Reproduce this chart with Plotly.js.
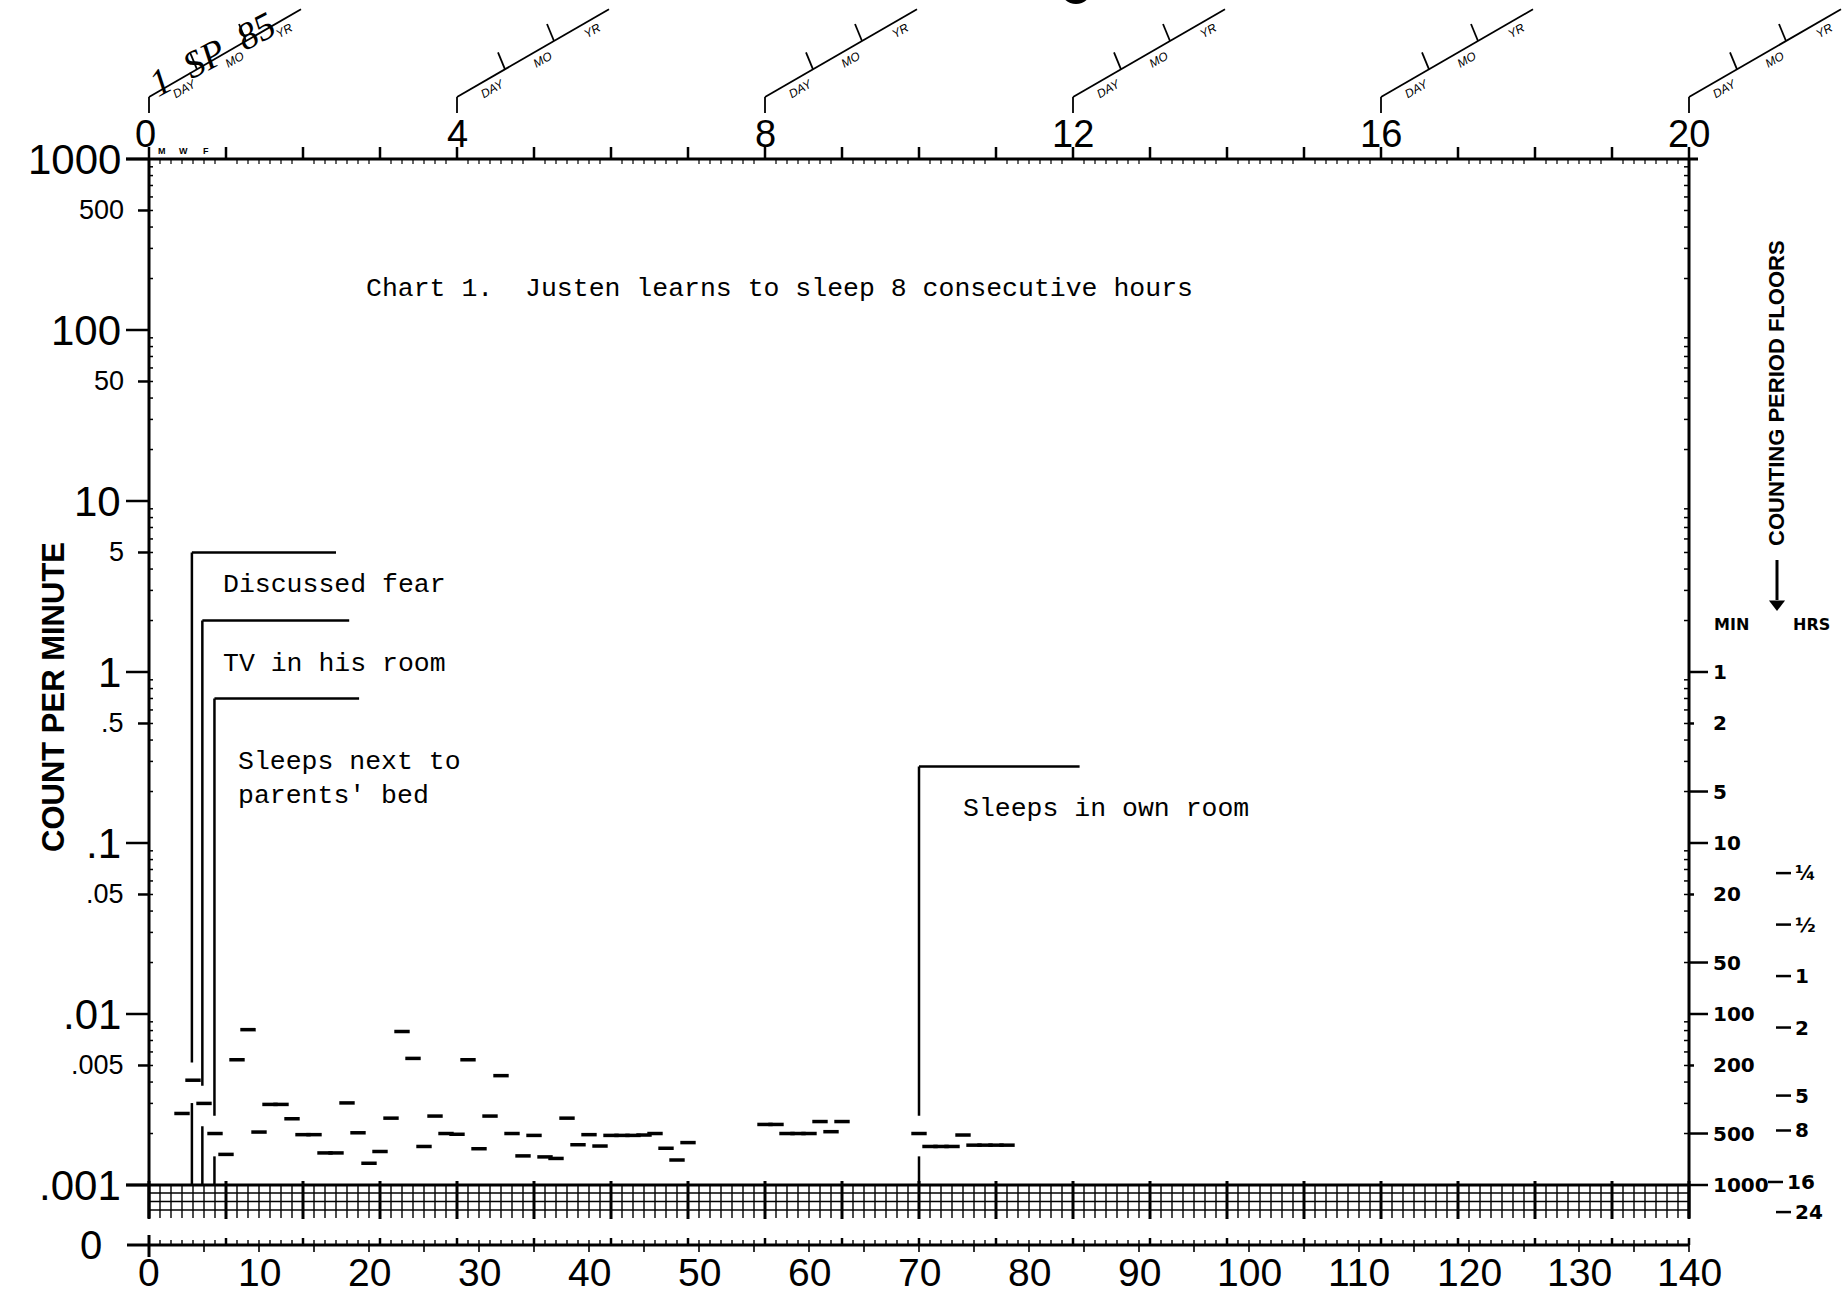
<!DOCTYPE html>
<html><head><meta charset="utf-8">
<script src="https://cdn.plot.ly/plotly-3.0.1.min.js"></script>
<style>html,body{margin:0;padding:0;background:#fff}</style>
</head><body><div id="chart" style="width:1843px;height:1294px"></div>
<script>
// ---------------- DATA ----------------
const days = [3,4,5,6,7,8,9,10,11,12,13,14,15,16,17,18,19,20,21,22,23,24,25,26,27,28,29,30,31,32,33,34,35,36,37,38,39,40,41,42,43,44,45,46,47,48,49,
              56,57,58,59,60,61,62,63,
              70,71,72,73,74,75,76,77,78];
const countPerMinute = [.00262,.0041,.0030,.0020,.00151,.0054,.0081,.00204,.00296,.00296,.00244,.00197,.00197,.00154,.00154,.00302,.00202,.00134,.00157,.00246,
              .0079,.0055,.00168,.00253,.0020,.00198,.0054,.00163,.00253,.00436,.0020,.00148,.00195,.00146,.00143,.00246,.00172,.00197,.00169,
              .00195,.00195,.00195,.00196,.0020,.00164,.0014,.00177,
              .00226,.00226,.0020,.0020,.0020,.00235,.00205,.00235,
              .0020,.00168,.00168,.00168,.00196,.00171,.00171,.00171,.00171];

const phaseDays   = [3.9, 4.85, 5.95, 70];
const phaseTops   = [5, 2, 0.7, 0.28];
const phaseEnds   = [17, 18.2, 19.1, 84.6];
const phaseLabels = ["Discussed fear", "TV in his room", "Sleeps next to<br>parents' bed", "Sleeps in own room"];
const chartTitle  = "Chart 1.  Justen learns to sleep 8 consecutive hours";

const yTickValues = [1000,500,100,50,10,5,1,.5,.1,.05,.01,.005,.001];
const yTickLabels = ["1000","500","100","50","10","5","1",".5",".1",".05",".01",".005",".001"];
const xTickDays   = [0,10,20,30,40,50,60,70,80,90,100,110,120,130,140];
const weekLabels  = [0,4,8,12,16,20];
const floorMinutes   = [1,2,5,10,20,50,100,200,500,1000];
const floorMinLabels = ["1","2","5","10","20","50","100","200","500","1000"];
const floorHours     = [0.25,0.5,1,2,5,8,16,24];
const floorHourLabels= ["¼","½","1","2","5","8","16","24"];

// ---------------- GEOMETRY (page pixels -> axis units) ----------------
const W = 1843, H = 1294;
const PX_DAY = 11, PX_DEC = 171, X0 = 149, YTOP = 159;
const dx = px => (px - X0) / PX_DAY;
const ly = py => 3 - (py - YTOP) / PX_DEC;
const vy = py => Math.pow(10, ly(py));
const L = Math.log10;
const ZERO_ROW = vy(1245), GRID_BOT = vy(1218);

function segTrace(segs, width) {
  const x = [], y = [];
  segs.forEach(s => { x.push(s[0], s[2], null); y.push(s[1], s[3], null); });
  return {type:'scatter', mode:'lines', x, y, line:{color:'#000', width}, hoverinfo:'skip', showlegend:false};
}

const traces = [];
const anns = [];
function ann(o) { anns.push(Object.assign({showarrow:false, xref:'x', yref:'y', font:{family:'Liberation Sans', color:'#000', size:14}}, o)); }

// frame
traces.push(segTrace([
  [dx(126), 1000, dx(1698), 1000],
  [0, 1000, 0, GRID_BOT],
  [140, 1000, 140, GRID_BOT],
  [dx(126), .001, 140, .001],
  [dx(127), ZERO_ROW, 140, ZERO_ROW]
], 3));

// left ticks + labels
const lt = [];
yTickValues.forEach((v, i) => {
  const dec = Math.abs(L(v) - Math.round(L(v))) < 1e-9;
  lt.push([dec ? dx(126) : dx(138), v, 0, v]);
  ann({x: dx(dec ? 123 : 126), y: L(v), xanchor:'right', yanchor:'middle', text: yTickLabels[i],
       font:{family:'Liberation Sans', size: dec ? 42 : 27, color:'#000'}});
});
ann({x: dx(104), y: L(ZERO_ROW), xanchor:'right', yanchor:'middle', text:'0', font:{family:'Liberation Sans', size:40, color:'#000'}});
traces.push(segTrace(lt, 2.5));

// minor ticks both sides
const mt = [];
for (let k = -3; k < 3; k++) for (let m = 2; m <= 9; m++) {
  const v = m * Math.pow(10, k);
  mt.push([0, v, dx(153), v]);
  mt.push([dx(1684), v, 140, v]);
}
traces.push(segTrace(mt, 1.5));

// right floors (MIN)
const rt = [];
floorMinutes.forEach((m, i) => {
  const v = 1 / m;
  const short = String(m).charAt(0) === '2';
  rt.push([140, v, dx(short ? 1694 : 1708), v]);
  ann({x: dx(1711), y: L(v), xanchor:'left', yanchor:'middle', text: floorMinLabels[i],
       font:{family:'DejaVu Sans', size:20, color:'#000', weight:'bold'}});
});
traces.push(segTrace(rt, 2.5));
// HRS
const ht = [];
floorHours.forEach((h, i) => {
  const v = 1 / (60 * h);
  const shift = h === 16 ? -8 : 0;
  ht.push([dx(1776 + shift), v, dx(1791 + shift), v]);
  ann({x: dx(1793 + shift), y: L(v), xanchor:'left', yanchor:'middle', text: floorHourLabels[i],
       font:{family:'DejaVu Sans', size:20, color:'#000', weight:'bold'}});
});
traces.push(segTrace(ht, 2.5));
ann({x: dx(1731), y: ly(624), text:'MIN', font:{family:'DejaVu Sans', size:16, color:'#000', weight:'bold'}});
ann({x: dx(1811), y: ly(624), text:'HRS', font:{family:'DejaVu Sans', size:16, color:'#000', weight:'bold'}});
ann({x: dx(1776), y: ly(393), textangle:-90, text:'COUNTING PERIOD FLOORS', font:{family:'Liberation Sans', size:22, color:'#000', weight:'bold'}});
traces.push(segTrace([[dx(1777), vy(560), dx(1777), vy(600)]], 3));
traces.push({type:'scatter', mode:'markers', x:[dx(1777)], y:[vy(604)], marker:{symbol:'triangle-down', size:14, color:'#000'}, hoverinfo:'skip', showlegend:false});
ann({x: dx(53), y: ly(697), textangle:-90, text:'COUNT PER MINUTE', font:{family:'Liberation Sans', size:31, color:'#000', weight:'bold'}});

// top axis ticks
const tw = [], td = [];
for (let d = 0; d <= 140; d++) {
  if (d % 7 === 0) tw.push([d, 1000, d, vy(147)]);
  else td.push([d, 1000, d, vy(164)]);
}
traces.push(segTrace(tw, 2.5));
traces.push(segTrace(td, 1.2));
weekLabels.forEach(w => ann({x: w === 0 ? dx(145) : w * 7, y: ly(134), text: String(w), font:{family:'Liberation Sans', size:38, color:'#000'}}));
['M','W','F'].forEach((t, i) => ann({x: 1.15 + 2 * i, y: ly(151), text: t, font:{family:'Liberation Sans', size:9, color:'#000', weight:'bold'}}));

// date diagonals
const dg = [];
const TAN = Math.tan(30 * Math.PI / 180);
const ptOn = (sx, o) => [sx + o, 97 - o * TAN];
weekLabels.forEach(w => {
  const sx = X0 + w * 7 * PX_DAY;
  dg.push([dx(sx), vy(113), dx(sx), vy(97)]);
  const e = ptOn(sx, 152);
  dg.push([dx(sx), vy(97), dx(e[0]), vy(e[1])]);
  [48, 97].forEach(o => {
    const p = ptOn(sx, o);
    dg.push([dx(p[0]), vy(p[1]), dx(p[0] - 7), vy(p[1] - 17)]);
  });
  [['DAY', 30], ['MO', 80], ['YR', 130]].forEach(([t, o]) => {
    const p = ptOn(sx, o);
    ann({x: dx(p[0] + 5), y: ly(p[1] + 9), textangle:-30, text: t, font:{family:'Liberation Sans', size:12, color:'#000', style:'italic'}});
  });
});
traces.push(segTrace(dg, 1.8));
ann({x: dx(212), y: ly(54), textangle:-28, text:'1  SP  85', font:{family:'Liberation Serif', size:38, color:'#000', style:'italic'}});

// publisher strip (cut at top)
traces.push({type:'scatter', mode:'markers', x:[dx(1076)], y:[vy(-12)], marker:{symbol:'circle', size:32, color:'#000'}, hoverinfo:'skip', showlegend:false, cliponaxis:true});
ann({x: dx(1112), y: ly(-4), xanchor:'left', text:'BOX 3351   KANSAS CITY   KANS 66103', font:{family:'Liberation Sans', size:15, color:'#000', weight:'bold'}});

// grid below floor
const gh = [], gv = [], gw = [];
[1193, 1201.5, 1210].forEach(py => gh.push([0, vy(py), 140, vy(py)]));
for (let d = 0; d <= 140; d++) {
  if (d % 7 === 0) gw.push([d, vy(1181), d, vy(1219)]);
  else gv.push([d, .001, d, GRID_BOT]);
}
traces.push(segTrace(gh, 1.5));
traces.push(segTrace(gv, 1.4));
traces.push(segTrace(gw, 3));

// zero row ticks
const zu = [], zw = [], z5 = [];
for (let d = 1; d <= 140; d++) {
  if (d % 7 === 0) zw.push([d, vy(1238), d, ZERO_ROW]);
  else zu.push([d, vy(1240), d, ZERO_ROW]);
  if (d % 5 === 0) z5.push([d, ZERO_ROW, d, vy(1252)]);
}
traces.push(segTrace(zu, 1.4));
traces.push(segTrace(zw, 2.5));
traces.push(segTrace(z5, 1.6));
traces.push(segTrace([[0, vy(1235), 0, vy(1257)]], 3));
xTickDays.forEach(d => ann({x: d, y: ly(1272), text: String(d), font:{family:'Liberation Sans', size:39, color:'#000'}}));

// phase change lines
const ph = [];
phaseDays.forEach((p, i) => {
  const k = days.indexOf(Math.round(p));
  const g = countPerMinute[k];
  ph.push([p, phaseTops[i], p, g * 1.27]);
  ph.push([p, g / 1.36, p, .001]);
  ph.push([p, phaseTops[i], phaseEnds[i], phaseTops[i]]);
});
traces.push(segTrace(ph, 2.5));

// text labels (positions)
const phaseLabelDay = [6.55, 6.55, 7.9, 73.8];
const phaseLabelCount = [3.23, 1.11, 0.238, 0.158];
const mono = {family:'Liberation Mono', size:26.5, color:'#000'};
phaseLabels.forEach((t, i) => ann({x: phaseLabelDay[i], y: L(phaseLabelCount[i]), xanchor:'left', align:'left', text: t, font: mono}));
ann({x: 19.5, y: L(174), xanchor:'left', text: chartTitle, font: mono});

// data
traces.push({type:'scatter', mode:'markers', x: days, y: countPerMinute,
  marker:{symbol:'line-ew', size:11, color:'#000', line:{color:'#000', width:3.5}}, hoverinfo:'skip', showlegend:false});

const layout = {
  width: W, height: H, margin:{l:0, r:0, t:0, b:0, pad:0},
  paper_bgcolor:'#fff', plot_bgcolor:'#fff', showlegend:false,
  xaxis:{range:[dx(0), dx(W)], visible:false, fixedrange:true},
  yaxis:{type:'log', range:[ly(H), ly(0)], visible:false, fixedrange:true},
  annotations: anns,
  font:{family:'Liberation Sans', color:'#000'}
};
Plotly.newPlot('chart', traces, layout, {staticPlot:true, displayModeBar:false});
</script></body></html>
